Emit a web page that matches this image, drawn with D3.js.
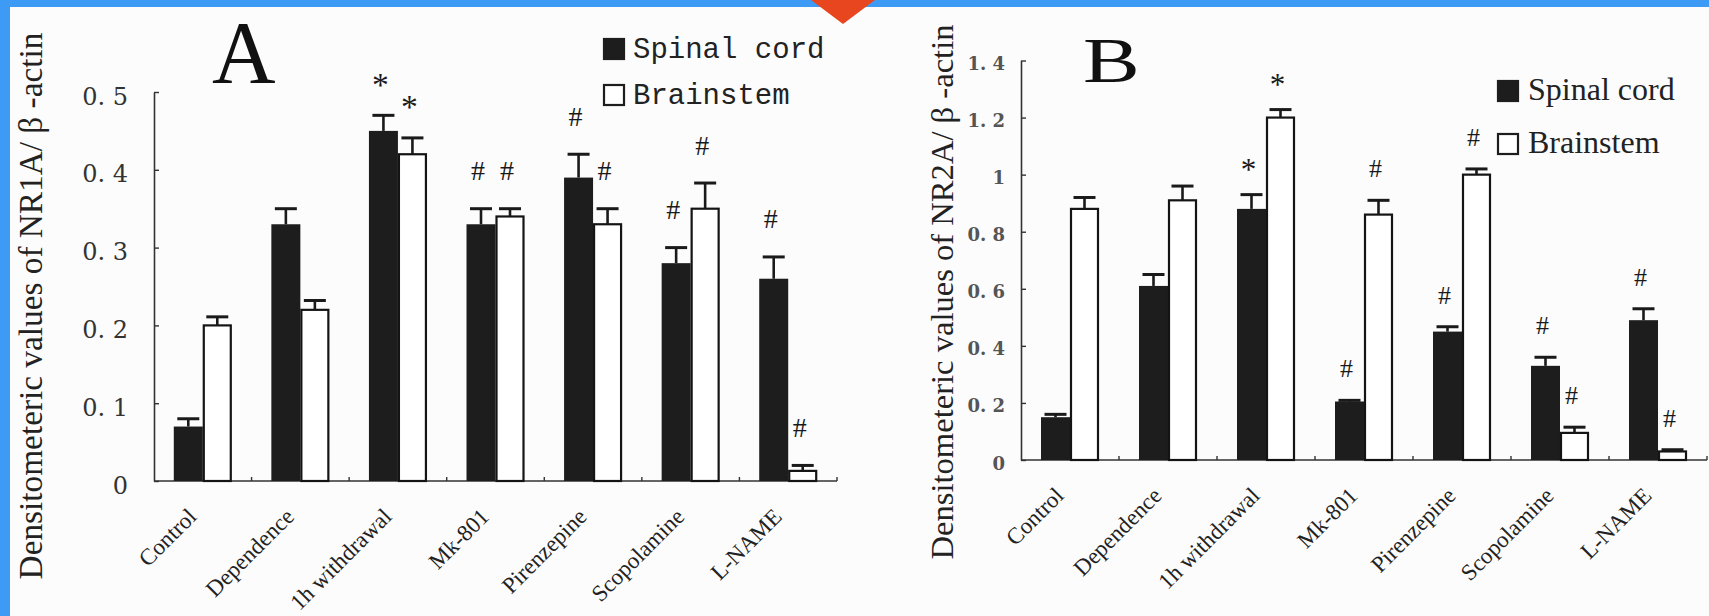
<!DOCTYPE html>
<html>
<head>
<meta charset="utf-8">
<script src="https://cdn.jsdelivr.net/npm/d3@7"></script>
<style>
html, body { margin: 0; padding: 0; background: #fcfcfc; }
svg { display: block; }
</style>
</head>
<body>
<svg id="chart" width="1709" height="616"></svg>
<script>
const categories = ["Control", "Dependence", "1h withdrawal", "Mk-801", "Pirenzepine", "Scopolamine", "L-NAME"];
const seriesNames = ["Spinal cord", "Brainstem"];

// panel A : NR1A / beta-actin
const nr1aSpinal = [0.07, 0.33, 0.45, 0.33, 0.39, 0.28, 0.26];
const nr1aSpinalErr = [0.01, 0.02, 0.02, 0.02, 0.03, 0.02, 0.028];
const nr1aBrain = [0.20, 0.22, 0.42, 0.34, 0.33, 0.35, 0.013];
const nr1aBrainErr = [0.011, 0.012, 0.021, 0.01, 0.02, 0.033, 0.007];
const nr1aSpinalMark = ["", "", "*", "#", "#", "#", "#"];
const nr1aBrainMark = ["", "", "*", "#", "#", "#", "#"];
const ticksA = [0, 0.1, 0.2, 0.3, 0.4, 0.5];
const tickLabelsA = ["0", "0. 1", "0. 2", "0. 3", "0. 4", "0. 5"];

// panel B : NR2A / beta-actin
const nr2aSpinal = [0.15, 0.61, 0.88, 0.205, 0.45, 0.33, 0.49];
const nr2aSpinalErr = [0.01, 0.04, 0.05, 0.004, 0.017, 0.03, 0.04];
const nr2aBrain = [0.88, 0.91, 1.20, 0.86, 1.00, 0.095, 0.03];
const nr2aBrainErr = [0.04, 0.05, 0.028, 0.05, 0.02, 0.02, 0.006];
const nr2aSpinalMark = ["", "", "*", "#", "#", "#", "#"];
const nr2aBrainMark = ["", "", "*", "#", "#", "#", "#"];
const ticksB = [0, 0.2, 0.4, 0.6, 0.8, 1, 1.2, 1.4];
const tickLabelsB = ["0", "0. 2", "0. 4", "0. 6", "0. 8", "1", "1. 2", "1. 4"];

const svg = d3.select("#chart");

// page frame (scanned slide border)
svg.append("rect").attr("width", 1709).attr("height", 616).attr("fill", "#fcfcfc");
svg.append("rect").attr("width", 1709).attr("height", 7).attr("fill", "#3d9bf6");
svg.append("rect").attr("width", 10).attr("height", 616).attr("fill", "#3d9bf6");
svg.append("path").attr("d", "M811,0 L875,0 L843,24 Z").attr("fill", "#e8461e");

function drawPanel(p) {
    const x = d3.scaleBand().domain(categories).range([p.left, p.right]);
    const bw = x.bandwidth();
    const sub = d3.scaleBand().domain(seriesNames).range([bw / 2 - 29, bw / 2 + 29]);
    const y = d3.scaleLinear().domain([0, p.yMax]).range([p.bottom, p.top]);
    const g = svg.append("g");

    // y axis
    const yAxis = d3.axisLeft(y)
        .tickValues(p.ticks)
        .tickFormat((d, i) => p.tickLabels[i])
        .tickSizeInner(-5)
        .tickSizeOuter(0)
        .tickPadding(p.tickPad);
    const ya = g.append("g").attr("transform", `translate(${p.left},0)`).call(yAxis);
    ya.select(".domain").attr("stroke", "#333").attr("stroke-width", 1.6);
    ya.selectAll(".tick line").attr("stroke", "#333").attr("stroke-width", 1.4);
    ya.selectAll(".tick text")
        .attr("font-family", "DejaVu Serif")
        .attr("font-size", p.tickFont)
        .attr("font-weight", p.tickWeight)
        .attr("fill", p.tickColor)
        .attr("dy", "0.5em");

    // x axis line with little group ticks
    g.append("line")
        .attr("x1", p.left).attr("x2", p.right)
        .attr("y1", p.bottom).attr("y2", p.bottom)
        .attr("stroke", "#333").attr("stroke-width", 1.6);
    g.selectAll(".gtick").data(categories).enter().append("line")
        .attr("x1", d => x(d) + bw).attr("x2", d => x(d) + bw)
        .attr("y1", p.bottom).attr("y2", p.bottom - 4)
        .attr("stroke", "#333").attr("stroke-width", 1.4);

    const rows = [];
    categories.forEach((c, i) => {
        rows.push({cat: c, s: seriesNames[0], v: p.spinal[i], e: p.spinalErr[i], m: p.spinalMark[i]});
        rows.push({cat: c, s: seriesNames[1], v: p.brain[i], e: p.brainErr[i], m: p.brainMark[i]});
    });
    const cx = d => x(d.cat) + sub(d.s) + sub.bandwidth() / 2;

    // bars
    g.selectAll(".bar").data(rows).enter().append("rect")
        .attr("x", d => x(d.cat) + sub(d.s) + (d.s === seriesNames[0] ? 0 : 1))
        .attr("width", d => sub.bandwidth() - (d.s === seriesNames[0] ? 0 : 2))
        .attr("y", d => y(d.v))
        .attr("height", d => p.bottom - y(d.v))
        .attr("fill", d => d.s === seriesNames[0] ? "#1d1d1d" : "#ffffff")
        .attr("stroke", d => d.s === seriesNames[0] ? "none" : "#141414")
        .attr("stroke-width", 2.2);

    // error bars
    g.selectAll(".err").data(rows).enter().append("line")
        .attr("x1", cx).attr("x2", cx)
        .attr("y1", d => y(d.v)).attr("y2", d => y(d.v + d.e))
        .attr("stroke", "#1a1a1a").attr("stroke-width", 2.6);
    g.selectAll(".cap").data(rows).enter().append("line")
        .attr("x1", d => cx(d) - 11).attr("x2", d => cx(d) + 11)
        .attr("y1", d => y(d.v + d.e)).attr("y2", d => y(d.v + d.e))
        .attr("stroke", "#1a1a1a").attr("stroke-width", 3);

    // significance marks
    g.selectAll(".mark").data(rows.filter(d => d.m)).enter().append("text")
        .attr("x", d => cx(d) - 3)
        .attr("y", d => y(d.v + d.e) - p.markGap)
        .attr("dy", d => d.m === "*" ? "0.55em" : "0.34em")
        .attr("text-anchor", "middle")
        .attr("font-family", "Liberation Serif")
        .attr("font-size", d => d.m === "*" ? p.markFont * 1.2 : p.markFont)
        .attr("fill", "#1a1a1a")
        .text(d => d.m);

    // category labels
    g.selectAll(".xlab").data(categories).enter().append("text")
        .attr("transform", d => `translate(${x(d) + bw / 2 - 5},${p.bottom + 37}) rotate(-45)`)
        .attr("text-anchor", "end")
        .attr("font-family", "Liberation Serif")
        .attr("font-size", 23)
        .attr("fill", "#222")
        .text(d => d);

    // y title
    g.append("text")
        .attr("transform", `translate(${p.titleX},${p.titleY}) rotate(-90)`)
        .attr("text-anchor", "middle")
        .attr("font-family", "Liberation Serif")
        .attr("font-size", p.titleFont)
        .attr("fill", "#222")
        .text(p.yTitle);

    // panel letter
    g.append("text")
        .attr("transform", `translate(${p.letterX},${p.letterY}) scale(${p.letterScale},1)`)
        .attr("font-family", "Liberation Serif")
        .attr("font-size", p.letterFont)
        .attr("fill", "#111")
        .text(p.letter);

    // legend
    const lg = g.selectAll(".leg").data(seriesNames).enter().append("g")
        .attr("transform", (d, i) => `translate(${p.legX},${p.legY + i * p.legStep})`);
    lg.append("rect")
        .attr("x", 1).attr("y", 1)
        .attr("width", 20).attr("height", 20)
        .attr("fill", (d, i) => i === 0 ? "#1d1d1d" : "#fff")
        .attr("stroke", "#1d1d1d").attr("stroke-width", 2.2);
    lg.append("text")
        .attr("x", p.legTextDx).attr("y", 20)
        .attr("font-family", p.legFontFamily)
        .attr("font-size", p.legFont)
        .attr("fill", "#222")
        .text(d => d);
}

drawPanel({
    left: 154, right: 837, bottom: 481, top: 92, yMax: 0.5,
    ticks: ticksA, tickLabels: tickLabelsA, tickPad: 26, tickFont: 24, tickWeight: "normal", tickColor: "#333",
    spinal: nr1aSpinal, spinalErr: nr1aSpinalErr, spinalMark: nr1aSpinalMark,
    brain: nr1aBrain, brainErr: nr1aBrainErr, brainMark: nr1aBrainMark,
    markGap: 38, markFont: 28,
    yTitle: "Densitometeric  values of NR1A/  \u03b2 -actin", titleX: 42, titleY: 306, titleFont: 33.3,
    letter: "A", letterX: 212, letterY: 82, letterFont: 88, letterScale: 1,
    legX: 603, legY: 38, legStep: 46, legTextDx: 30, legFont: 29, legFontFamily: "Liberation Mono"
});

drawPanel({
    left: 1021, right: 1707, bottom: 460, top: 60.5, yMax: 1.4,
    ticks: ticksB, tickLabels: tickLabelsB, tickPad: 16, tickFont: 18, tickWeight: "bold", tickColor: "#555",
    spinal: nr2aSpinal, spinalErr: nr2aSpinalErr, spinalMark: nr2aSpinalMark,
    brain: nr2aBrain, brainErr: nr2aBrainErr, brainMark: nr2aBrainMark,
    markGap: 32, markFont: 26,
    yTitle: "Densitometeric values of NR2A/  \u03b2 -actin", titleX: 953, titleY: 292, titleFont: 32.6,
    letter: "B", letterX: 1083, letterY: 82, letterFont: 63, letterScale: 1.35,
    legX: 1497, legY: 80, legStep: 53, legTextDx: 31, legFont: 32, legFontFamily: "Liberation Serif"
});
</script>
</body>
</html>
